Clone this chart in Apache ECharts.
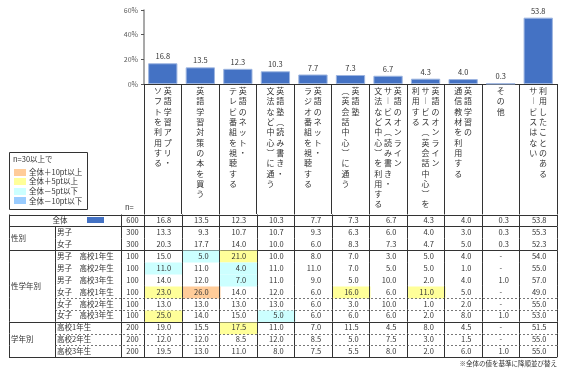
<!DOCTYPE html>
<html><head><meta charset="utf-8">
<script src="https://cdn.jsdelivr.net/npm/echarts@6/dist/echarts.min.js"></script>
<style>html,body{margin:0;padding:0;background:#fff}#c{width:567px;height:369px}</style>
</head><body><div id="c"></div>
<script>
// ---------- data ----------
const categoryColumns = [
  ['英語学習アプリ・','ソフトを利用する'],
  ['英語学習対策の本を買う'],
  ['英語のネット・','テレビ番組を視聴する'],
  ['英語塾（読み書き・','文法など中心）に通う'],
  ['英語のネット・','ラジオ番組を視聴する'],
  ['英語塾','（英会話中心）に通う'],
  ['英語のオンライン','サービス（読み書き・','文法など中心）を利用する'],
  ['英語のオンライン','サービス（英会話中心）を','利用する'],
  ['英語学習の','通信教材を利用する'],
  ['その他'],
  ['利用したことのある','サービスはない']
];
const categories = categoryColumns.map(c => c.join(''));
const overall = [16.8, 13.5, 12.3, 10.3, 7.7, 7.3, 6.7, 4.3, 4.0, 0.3, 53.8];
const yTicks = [0, 20, 40, 60];

const rowLabels = ['全体','男子','女子','男子　高校1年生','男子　高校2年生','男子　高校3年生',
  '女子　高校1年生','女子　高校2年生','女子　高校3年生','高校1年生','高校2年生','高校3年生'];
const rowN = [600, 300, 300, 100, 100, 100, 100, 100, 100, 200, 200, 200];
const tableValues = [
  overall,
  [13.3, 9.3, 10.7, 10.7, 9.3, 6.3, 6.0, 4.0, 3.0, 0.3, 55.3],
  [20.3, 17.7, 14.0, 10.0, 6.0, 8.3, 7.3, 4.7, 5.0, 0.3, 52.3],
  [15.0, 5.0, 21.0, 10.0, 8.0, 7.0, 3.0, 5.0, 4.0, null, 54.0],
  [11.0, 11.0, 4.0, 11.0, 11.0, 7.0, 5.0, 5.0, 1.0, null, 55.0],
  [14.0, 12.0, 7.0, 11.0, 9.0, 5.0, 10.0, 2.0, 4.0, 1.0, 57.0],
  [23.0, 26.0, 14.0, 12.0, 6.0, 16.0, 6.0, 11.0, 5.0, null, 49.0],
  [13.0, 13.0, 13.0, 13.0, 6.0, 3.0, 10.0, 1.0, 2.0, null, 55.0],
  [25.0, 14.0, 15.0, 5.0, 6.0, 6.0, 6.0, 2.0, 8.0, 1.0, 53.0],
  [19.0, 15.5, 17.5, 11.0, 7.0, 11.5, 4.5, 8.0, 4.5, null, 51.5],
  [12.0, 12.0, 8.5, 12.0, 8.5, 5.0, 7.5, 3.0, 1.5, null, 55.0],
  [19.5, 13.0, 11.0, 8.0, 7.5, 5.5, 8.0, 2.0, 6.0, 1.0, 55.0]
];
const groupNames = ['性別', '性学年別', '学年別'];
const groupStart = [1, 3, 9];
const groupEnd = [2, 8, 11];
const keyTitle = 'n=30以上で';
const keyLabels = ['全体＋10pt以上', '全体＋5pt以上', '全体－5pt以下', '全体－10pt以下'];
const footnote = '※全体の値を基準に降順並び替え';

// ---------- styles ----------
const FONT = '"Noto Sans CJK JP", "Noto Sans", sans-serif';
const BAR = '#4472C4';
const keyColors = ['#FFCC99', '#FFFF99', '#CCFFFF', '#99CCFF'];
const rowBottomStyle = ['solid','none','solid','none','none','none','dashed','dashed','solid','dashed','dashed','solid'];
const LINE = '#333';
const X_TABLE = 9, X_SUB = 55, X_N = 121;
const TXT = '#333';

function cellColor(r, c) {
  if (r === 0 || rowN[r] < 30) return null;
  const v = tableValues[r][c] == null ? 0 : tableValues[r][c];
  const d = v - overall[c];
  if (d >= 10) return keyColors[0];
  if (d >= 5) return keyColors[1];
  if (d <= -10) return keyColors[3];
  if (d <= -5) return keyColors[2];
  return null;
}

// vertical (tategaki) text: first column on the right
function vertical(cols) {
  const map = {'ー':'︱','（':'︵','）':'︶'};
  const arr = cols.map(c => [...c]);
  const n = Math.max(...arr.map(a => a.length));
  const lines = [];
  for (let i = 0; i < n; i++) {
    const parts = [];
    for (let j = arr.length - 1; j >= 0; j--) {
      const ch = arr[j][i];
      parts.push(ch ? (map[ch] || ch) : '　');
    }
    lines.push(parts.join(' '));
  }
  return lines.join('\n');
}

const px = v => Math.round(v) + 0.5;
function hline(x1, x2, y, dashed) {
  return { type: 'line', shape: { x1: x1, y1: px(y), x2: x2, y2: px(y) },
    style: { stroke: dashed ? '#777' : LINE, lineWidth: 1, lineDash: dashed ? [2, 2] : null } };
}
function vline(x, y1, y2) {
  return { type: 'line', shape: { x1: px(x), y1: y1, x2: px(x), y2: y2 },
    style: { stroke: LINE, lineWidth: 1 } };
}
function txt(s, x, y, align, size) {
  return { type: 'text', style: { text: s, x: x, y: y, align: align, verticalAlign: 'middle',
    font: (size || 7.5) + 'px ' + FONT, fill: TXT } };
}

function renderRow(params, api) {
  const r = api.value(1);
  const cw = api.size([1, 0])[0];
  const rh = api.size([0, 1])[1];
  const mid = api.coord([0, r])[1];
  const top = mid - rh / 2, bot = mid + rh / 2;
  const dataLeft = api.coord([0, r])[0] - cw / 2;
  const dataRight = api.coord([categories.length - 1, r])[0] + cw / 2;
  const ch = [];
  for (let c = 0; c < categories.length; c++) {
    const cx = api.coord([c, r])[0];
    const fill = cellColor(r, c);
    if (fill) ch.push({ type: 'rect', shape: { x: px(cx - cw / 2), y: px(top), width: Math.round(cw), height: Math.round(rh) },
      style: { fill: fill } });
    const v = tableValues[r][c];
    if (v == null) ch.push(txt('-', cx, mid, 'center'));
    else ch.push(txt(v.toFixed(1), cx + cw / 2 - 10.5, mid, 'right'));
  }
  if (r === 0) {
    ch.push(txt(rowLabels[r], 60, mid, 'center'));
    ch.push({ type: 'rect', shape: { x: 87, y: Math.round(mid) - 3, width: 17, height: 6 }, style: { fill: BAR } });
  } else {
    ch.push(txt(rowLabels[r], X_SUB + 2, mid, 'left'));
  }
  ch.push(txt(String(rowN[r]), (X_N + dataLeft) / 2, mid, 'center'));
  ch.push(vline(X_TABLE, top, bot));
  if (r !== 0) ch.push(vline(X_SUB, top, bot));
  ch.push(vline(X_N, top, bot));
  for (let c = 0; c <= categories.length; c++) ch.push(vline(dataLeft + c * cw, top, bot));
  if (r === 0) ch.push(hline(X_TABLE, dataRight, top, false));
  const st = rowBottomStyle[r];
  if (st === 'solid') ch.push(hline(X_TABLE, dataRight, bot, false));
  else if (st === 'dashed') ch.push(hline(X_SUB, dataRight, bot, true));
  return { type: 'group', children: ch };
}

function renderGroup(params, api) {
  const i = params.dataIndex;
  const rh = api.size([0, 1])[1];
  const t = api.coord([0, api.value(1)])[1] - rh / 2;
  const b = api.coord([0, api.value(2)])[1] + rh / 2;
  return { type: 'group', children: [txt(groupNames[i], X_TABLE + 2, (t + b) / 2, 'left')] };
}

const chart = echarts.init(document.getElementById('c'), null, { renderer: 'canvas' });

const graphics = [
  { type: 'rect', shape: { x: 9.5, y: 152.5, width: 78, height: 57 }, style: { fill: 'none', stroke: LINE, lineWidth: 1 } },
  { type: 'text', style: { text: keyTitle, x: 13, y: 159.5, verticalAlign: 'middle', font: '7.5px ' + FONT, fill: TXT } },
  { type: 'text', style: { text: 'n=', x: 125, y: 207, verticalAlign: 'middle', font: '7.5px ' + FONT, fill: TXT } },
  { type: 'text', style: { text: footnote, x: 557, y: 363.5, align: 'right', verticalAlign: 'middle', font: '6.5px ' + FONT, fill: TXT } }
];
keyLabels.forEach((l, i) => {
  const cy = 172 + i * 9.6;
  graphics.push({ type: 'rect', shape: { x: 14, y: Math.round(cy - 3.5), width: 12, height: 7 }, style: { fill: keyColors[i] } });
  graphics.push({ type: 'text', style: { text: l, x: 29, y: cy, verticalAlign: 'middle', font: '7.5px ' + FONT, fill: TXT } });
});

chart.setOption({
  animation: false,
  backgroundColor: '#fff',
  textStyle: { fontFamily: FONT },
  graphic: graphics,
  grid: [
    { left: 144, right: 10, top: 10, height: 74 },
    { left: 144, right: 10, top: 214.5, height: 142.8 }
  ],
  xAxis: [
    { type: 'category', gridIndex: 0, data: categories,
      axisLine: { lineStyle: { color: LINE, width: 1 } },
      axisTick: { show: true, length: 130, lineStyle: { color: LINE, width: 1 } },
      axisLabel: { interval: 0, margin: 2, align: 'center', fontSize: 8, lineHeight: 10.3,
        fontFamily: FONT, color: TXT, formatter: (v, i) => vertical(categoryColumns[i]) } },
    { type: 'category', gridIndex: 1, data: categories, show: false }
  ],
  yAxis: [
    { type: 'value', gridIndex: 0, min: yTicks[0], max: yTicks[yTicks.length - 1], interval: 20,
      axisLine: { show: true, lineStyle: { color: '#8c8c8c', width: 1.5 } },
      axisTick: { show: true, length: 3, lineStyle: { color: '#555' } },
      splitLine: { show: false },
      axisLabel: { formatter: '{value}%', fontSize: 7, color: '#595959', margin: 6 } },
    { type: 'category', gridIndex: 1, data: rowLabels, inverse: true, show: false }
  ],
  series: [
    { type: 'bar', xAxisIndex: 0, yAxisIndex: 0, data: overall, barCategoryGap: '22%',
      itemStyle: { color: BAR, borderColor: '#9DB5E0', borderWidth: 1 },
      label: { show: true, position: 'top', distance: 3, fontSize: 7.5, color: TXT, formatter: p => p.value.toFixed(1) } },
    { type: 'custom', xAxisIndex: 1, yAxisIndex: 1, renderItem: renderRow, clip: false,
      data: rowLabels.map((l, i) => [0, i]), encode: { x: 0, y: 1 } },
    { type: 'custom', xAxisIndex: 1, yAxisIndex: 1, renderItem: renderGroup, clip: false,
      data: groupNames.map((g, i) => [0, groupStart[i], groupEnd[i]]), encode: { x: 0, y: 1 } }
  ]
});
</script>
</body></html>
